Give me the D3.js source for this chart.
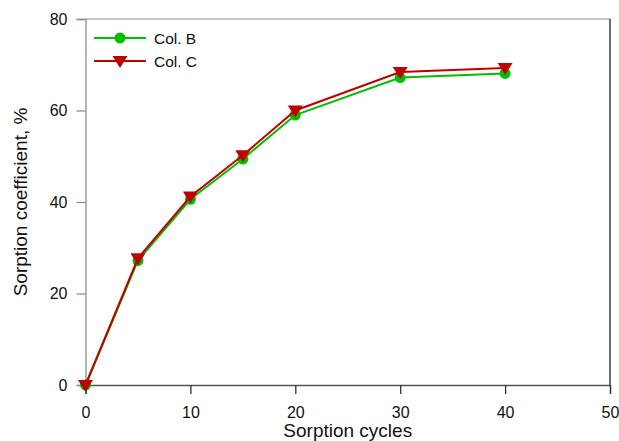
<!DOCTYPE html>
<html><head><meta charset="utf-8">
<script src="https://cdn.jsdelivr.net/npm/d3@7"></script>
<style>body{margin:0;background:#fff}svg{display:block;font-family:"Liberation Sans",Arial,sans-serif}</style>
</head><body>
<svg id="c" width="619" height="441"></svg>
<script>
const cycles = [0, 5, 10, 15, 20, 30, 40];
const colB = [0, 27.2, 40.6, 49.4, 59.0, 67.2, 68.1];
const colC = [0, 27.7, 41.2, 50.2, 60.0, 68.4, 69.3];
const xTicks = [0, 10, 20, 30, 40, 50];
const yTicks = [0, 20, 40, 60, 80];
const seriesNames = ["Col. B", "Col. C"];

const svg = d3.select("#c");
const x = d3.scaleLinear().domain([0, 50]).range([85.5, 610]);
const y = d3.scaleLinear().domain([0, 80]).range([385, 19]);
const FONT = "Liberation Sans, Arial, sans-serif";

// frame
svg.append("line").attr("x1", x(0)).attr("x2", x(50)).attr("y1", y(80)).attr("y2", y(80)).attr("stroke", "#b4b4b4").attr("stroke-width", 1.5);
svg.append("line").attr("x1", x(50)).attr("x2", x(50)).attr("y1", y(80)).attr("y2", y(0)).attr("stroke", "#202020").attr("stroke-width", 1.3);

const yAxis = svg.append("g").attr("transform", `translate(${x(0)},0)`)
  .call(d3.axisLeft(y).tickValues(yTicks).tickSize(9).tickPadding(9).tickFormat(d3.format("d")));
yAxis.select(".domain").attr("stroke", "#909090").attr("stroke-width", 1.3);
yAxis.selectAll(".tick line").attr("stroke", "#909090").attr("stroke-width", 1.3);
yAxis.selectAll("text").attr("font-size", 16).attr("fill", "#111").attr("font-family", FONT);

const xAxis = svg.append("g").attr("transform", `translate(0,${y(0)})`)
  .call(d3.axisBottom(x).tickValues(xTicks).tickSize(9).tickPadding(13).tickFormat(d3.format("d")));
xAxis.select(".domain").attr("stroke", "#555").attr("stroke-width", 1.3);
xAxis.selectAll(".tick line").attr("stroke", "#333").attr("stroke-width", 1.3);
xAxis.selectAll("text").attr("font-size", 16).attr("fill", "#111").attr("font-family", FONT);

svg.append("text").attr("x", (x(0) + x(50)) / 2).attr("y", 437).attr("text-anchor", "middle")
  .attr("font-size", 19).attr("fill", "#111").text("Sorption cycles");
svg.append("text").attr("transform", `translate(27,${(y(0) + y(80)) / 2}) rotate(-90)`).attr("text-anchor", "middle")
  .attr("font-size", 19).attr("fill", "#111").text("Sorption coefficient, %");

const green = "#00c000", red = "#c00000";
const line = d3.line().x(d => x(d[0])).y(d => y(d[1]));
const dB = cycles.map((c, i) => [c, colB[i]]);
const dC = cycles.map((c, i) => [c, colC[i]]);
const tri = "M-7.5,-5L7.5,-5L0,7Z";

svg.append("path").datum(dB).attr("d", line).attr("fill", "none").attr("stroke", green).attr("stroke-width", 2);
svg.selectAll(".mb").data(dB).enter().append("circle").attr("cx", d => x(d[0])).attr("cy", d => y(d[1])).attr("r", 5.5).attr("fill", green);
svg.append("path").datum(dC).attr("d", line).attr("fill", "none").attr("stroke", red).attr("stroke-width", 2);
svg.selectAll(".mc").data(dC).enter().append("path").attr("d", tri).attr("transform", d => `translate(${x(d[0])},${y(d[1])})`).attr("fill", red);

// legend
const lg = svg.append("g");
[[green, 38, "c"], [red, 61, "t"]].forEach((s, i) => {
  lg.append("line").attr("x1", 94).attr("x2", 146).attr("y1", s[1]).attr("y2", s[1]).attr("stroke", s[0]).attr("stroke-width", 2);
  if (s[2] === "c") lg.append("circle").attr("cx", 120).attr("cy", s[1]).attr("r", 5.5).attr("fill", s[0]);
  else lg.append("path").attr("d", tri).attr("transform", `translate(120,${s[1]})`).attr("fill", s[0]);
  lg.append("text").attr("x", 154).attr("y", s[1] + 5.5).attr("font-size", 15.5).attr("fill", "#111").text(seriesNames[i]);
});
</script>
</body></html>
